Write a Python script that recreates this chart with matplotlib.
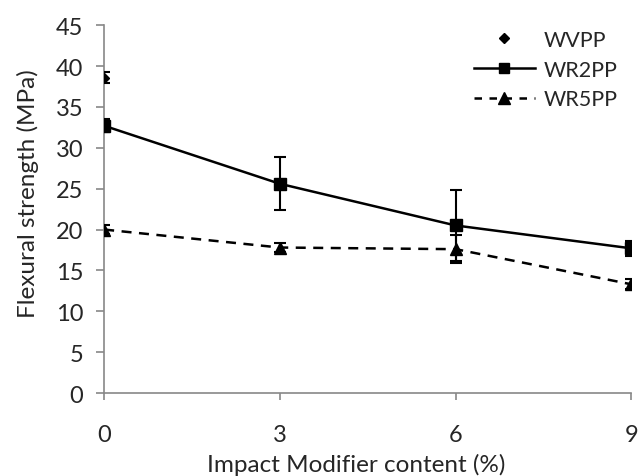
"""Flexural strength vs impact modifier content for WVPP / WR2PP / WR5PP."""
import matplotlib
matplotlib.use("Agg")
import matplotlib.pyplot as plt
from matplotlib.lines import Line2D

# ---------------------------------------------------------------------------
# Data
# ---------------------------------------------------------------------------
im_content = [0, 3, 6, 9]

wvpp_x = [0]
wvpp_strength = [38.6]
wvpp_err = [0.65]

wr2pp_strength = [32.7, 25.6, 20.5, 17.7]
wr2pp_err = [0.8, 3.25, 4.4, 0.9]

wr5pp_strength = [20.0, 17.8, 17.6, 13.3]
wr5pp_err = [0.5, 0.6, 1.7, 0.6]

x_ticks = [0, 3, 6, 9]
y_ticks = list(range(0, 50, 5))

plt.rcParams["font.family"] = ["Lato", "DejaVu Sans"]
TXT = "#262626"

fig = plt.figure(figsize=(6.39, 4.77), dpi=100)
ax = fig.add_axes([0.163, 0.174, 0.825, 0.771])

ax.errorbar(wvpp_x, wvpp_strength, yerr=wvpp_err, fmt="D", color="black",
            markersize=5, capsize=4, elinewidth=1.5, capthick=1.5, zorder=3)
ax.errorbar(im_content, wr2pp_strength, yerr=wr2pp_err, fmt="s-", color="black",
            markersize=8, capsize=4, elinewidth=1.5, capthick=1.5, linewidth=1.8,
            zorder=3)
ax.errorbar(im_content, wr5pp_strength, yerr=wr5pp_err, fmt="^--", color="black",
            markersize=9, capsize=4, elinewidth=1.5, capthick=1.5, linewidth=1.8,
            dashes=(4, 3), zorder=3)

ax.set_xlim(0, 9)
ax.set_ylim(0, 45)
ax.set_xticks(x_ticks)
ax.set_yticks(y_ticks)

for side in ("top", "right"):
    ax.spines[side].set_visible(False)
for side in ("left", "bottom"):
    ax.spines[side].set_color("#888888")
    ax.spines[side].set_linewidth(1.2)
    ax.spines[side].set_clip_on(False)

ax.tick_params(axis="both", colors="#888888", labelcolor=TXT,
               labelsize=17, width=1.2)
ax.tick_params(axis="y", length=6, pad=9)
ax.tick_params(axis="x", length=5, pad=17)

ax.set_xlabel("Impact Modifier content (%)", fontsize=17.5, color=TXT)
ax.set_ylabel("Flexural strength (MPa)", fontsize=17.5, color=TXT)
ax.xaxis.set_label_coords(0.478, -0.162)
ax.yaxis.set_label_coords(-0.124, 0.546)

handles = [
    Line2D([], [], linestyle="none", marker="D", markersize=5, color="black"),
    Line2D([], [], linestyle="-", marker="s", markersize=7, color="black",
           linewidth=1.8),
    Line2D([], [], linestyle="--", dashes=(3, 3), marker="^", markersize=8,
           color="black", linewidth=1.8),
]
leg = ax.legend(handles, ["WVPP", "WR2PP", "WR5PP"], loc="upper right",
                frameon=False, fontsize=15.5, handlelength=2.8, handletextpad=0.4,
                labelspacing=0.45, bbox_to_anchor=(1.01, 1.04))
for t in leg.get_texts():
    t.set_color(TXT)

fig.savefig("out.png", dpi=100)
